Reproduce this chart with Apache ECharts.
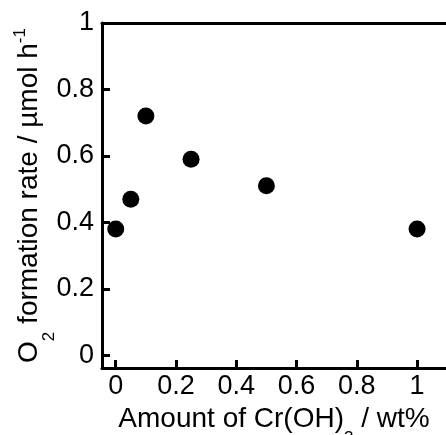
<!DOCTYPE html>
<html>
<head>
<meta charset="utf-8">
<script src="https://cdn.jsdelivr.net/npm/echarts@6/dist/echarts.min.js"></script>
<style>
  html, body { margin: 0; padding: 0; background: #fff; }
  #chart { width: 446px; height: 435px; }
</style>
</head>
<body>
<div id="chart"></div>
<script>
// Cr(OH)3 loading (wt%) vs O2 formation rate
const crAmount = [0, 0.05, 0.1, 0.25, 0.5, 1]
const o2Rate = [0.38, 0.47, 0.72, 0.59, 0.51, 0.38]
const xTicks = [0, 0.2, 0.4, 0.6, 0.8, 1]
const yTicks = [0, 0.2, 0.4, 0.6, 0.8, 1]

const font = 'Liberation Sans, Arial, sans-serif'
const lineStyle = { color: '#000', width: 3 }

const chart = echarts.init(document.getElementById('chart'), null, { renderer: 'canvas' })

chart.setOption({
  animation: false,
  backgroundColor: '#fff',
  grid: { left: 102, right: 0, top: 23, bottom: 67, containLabel: false, outerBoundsMode: 'none' },
  xAxis: [{
    type: 'value',
    min: -0.0456,
    max: 1.096,
    position: 'bottom',
    axisLine: { show: true, onZero: false, lineStyle: lineStyle },
    axisTick: { show: true, inside: true, length: 8, lineStyle: lineStyle, customValues: xTicks },
    axisLabel: {
      customValues: xTicks,
      color: '#000',
      fontFamily: font,
      fontSize: 27,
      margin: 5,
      formatter: v => String(+v.toFixed(1))
    },
    splitLine: { show: false },
    name: '{a|Amount of Cr(OH)}{sub|3}{a| / wt%}',
    nameLocation: 'middle',
    nameMoveOverlap: false,
    nameGap: 35,
    nameTextStyle: {
      color: '#000',
      fontFamily: font,
      rich: {
        a: { fontFamily: font, fontSize: 28, lineHeight: 32, color: '#000' },
        sub: { fontFamily: font, fontSize: 17, lineHeight: 17, padding: [38, 0, 0, 0], color: '#000' }
      }
    }
  }, {
    type: 'value',
    min: -0.0456,
    max: 1.096,
    position: 'top',
    axisLine: { show: true, onZero: false, lineStyle: lineStyle },
    axisTick: { show: false },
    axisLabel: { show: false },
    splitLine: { show: false }
  }],
  yAxis: {
    type: 'value',
    min: -0.038,
    max: 1,
    axisLine: { show: true, onZero: false, lineStyle: lineStyle },
    axisTick: { show: true, inside: true, length: 8, lineStyle: lineStyle, customValues: yTicks },
    axisLabel: {
      customValues: yTicks,
      color: '#000',
      fontFamily: font,
      fontSize: 27,
      margin: 8,
      formatter: v => String(+v.toFixed(1))
    },
    splitLine: { show: false },
    name: '{a|O}{sub|2}{a| formation rate / µmol h}{sup|-1}',
    nameLocation: 'middle',
    nameMoveOverlap: false,
    nameRotate: 90,
    nameGap: 57,
    nameTextStyle: {
      color: '#000',
      fontFamily: font,
      rich: {
        a: { fontFamily: font, fontSize: 28, lineHeight: 32, color: '#000' },
        sub: { fontFamily: font, fontSize: 17, lineHeight: 17, padding: [40, 0, 0, 0], color: '#000' },
        sup: { fontFamily: font, fontSize: 17, lineHeight: 17, padding: [0, 0, 17, 0], color: '#000' }
      }
    }
  },
  series: [{
    type: 'scatter',
    xAxisIndex: 0,
    symbol: 'circle',
    symbolSize: 17,
    itemStyle: { color: '#000', opacity: 1 },
    data: crAmount.map((x, i) => [x, o2Rate[i]])
  }]
})
</script>
</body>
</html>
